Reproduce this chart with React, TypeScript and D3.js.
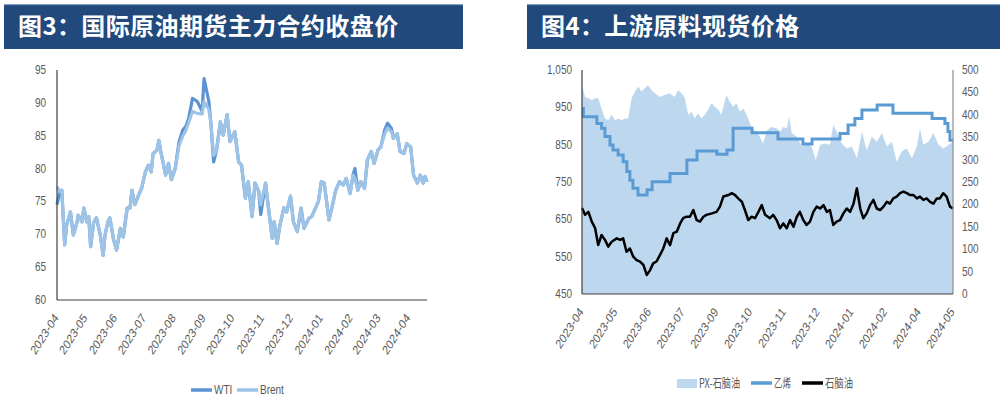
import React from "react";
import * as d3 from "d3";

// ---------- Left chart data: 国际原油期货主力合约收盘价 ----------
const oilStartDate = "2023-04-01";
const oilDays = [0,3,5,8,10,14,17,21,22,26,28,31,33,35,38,41,45,48,50,53,55,59,62,66,69,73,76,78,81,85,88,92,95,98,100,104,106,108,113,116,119,123,127,131,134,137,141,146,151,153,158,160,163,166,170,173,177,180,185,189,192,196,199,203,206,210,212,217,220,224,226,229,232,236,239,243,246,250,254,257,262,265,269,272,275,278,283,286,290,294,298,301,305,308,310,313,316,320,323,327,330,334,337,341,344,348,350,354,357,361,364,368,371,375,378,381,383,385];
const wti = [74.5,76.5,76.7,68.4,71.4,73.4,69.9,71.9,72.9,71.9,74.0,71.9,72.7,68.1,71.7,72.5,69.9,66.8,69.9,71.9,72.5,69.1,67.6,70.9,69.6,74.0,74.0,76.7,74.5,76.0,77.0,79.5,80.5,79.5,82.3,82.8,84.3,82.6,79.0,80.8,78.3,80.0,84.1,85.9,86.4,87.6,90.7,90.2,88.7,93.7,90.2,87.1,81.0,82.8,87.1,85.1,88.2,84.1,85.6,81.0,80.5,75.5,78.0,72.7,77.8,76.5,73.0,77.8,74.0,69.4,71.9,68.6,71.4,74.0,73.4,75.8,71.9,70.4,74.0,70.9,72.4,72.7,74.0,75.0,78.0,77.8,72.2,74.0,76.7,78.0,77.5,78.5,76.2,79.0,80.0,76.7,78.0,77.0,81.3,82.6,80.8,82.8,83.3,85.9,86.9,86.1,84.6,85.3,82.6,82.3,83.8,83.3,79.0,77.8,79.0,77.8,78.8,78.0];
const brent = [77.2,76.5,76.7,68.4,71.4,73.4,69.9,71.9,72.9,71.9,74.0,71.9,72.7,68.1,71.7,72.5,69.9,66.8,69.9,71.9,72.5,69.1,67.6,70.9,69.6,74.0,74.0,76.7,74.5,76.0,77.0,79.5,80.5,79.5,82.3,82.8,84.3,82.6,79.0,80.8,78.3,80.0,83.5,85.0,85.8,87.0,88.7,88.4,88.3,90.2,89.0,87.1,82.0,82.8,87.1,85.1,88.2,84.1,85.6,81.0,80.5,75.5,78.0,72.7,77.8,76.5,74.5,77.8,74.0,69.4,71.9,68.6,71.4,74.0,73.4,75.8,71.9,70.4,74.0,70.9,72.4,72.7,74.0,75.0,78.0,77.8,72.2,74.0,76.7,78.0,77.5,78.5,76.2,79.0,78.5,76.7,78.0,77.0,81.3,82.6,80.8,82.8,83.3,85.3,86.2,85.6,84.6,85.3,82.6,82.3,83.8,83.3,79.0,77.8,79.0,77.8,78.8,78.0];
const oilMonthLabels = ["2023-04","2023-05","2023-06","2023-07","2023-08","2023-09","2023-10","2023-11","2023-12","2024-01","2024-02","2024-03","2024-04"];
const oilYTicks = [60,65,70,75,80,85,90,95];

// ---------- Right chart data: 上游原料现货价格 ----------
const spotLabels = ["2023-04","2023-05","2023-06","2023-07","2023-09","2023-10","2023-11","2023-12","2024-01","2024-02","2024-04","2024-05"];
const spotLeftTicks = [450,550,650,750,850,950,1050];
const spotRightTicks = [0,50,100,150,200,250,300,350,400,450,500];
const ethylenePos = [0,4,44,58,68,83,92,107,122,133,142,151,166,193,208,261,311,341,400,430,448,504,581,655,682,765,789,809,830,875,922,1038,1076,1085,1091,1100];
const ethylene = [947,925,907,894,872,849,836,822,804,778,755,733,715,729,751,773,809,833,824,836,894,882,865,852,865,880,903,920,943,956,934,920,907,885,862,862];
const naphthaPos = [0,9,19,29,39,48,58,68,78,88,103,113,122,132,142,152,162,172,182,192,202,211,221,231,241,251,261,271,281,291,300,310,320,330,340,350,360,369,385,399,409,419,434,444,454,463,474,483,493,503,513,523,533,543,557,567,577,587,597,607,617,627,637,646,656,666,676,686,696,706,716,726,735,745,755,765,775,785,795,805,815,825,834,844,854,864,874,884,894,904,913,923,933,943,953,963,973,983,993,1002,1012,1022,1032,1042,1052,1061,1071,1081,1091,1100];
const naphtha = [680,662,670,644,626,581,608,595,577,590,599,595,599,563,572,550,541,537,528,501,514,532,537,554,572,599,581,613,617,639,653,657,657,675,648,644,657,662,666,670,684,711,715,720,715,706,697,675,648,657,653,670,688,662,653,662,648,626,639,626,648,630,657,670,648,635,644,670,684,679,688,670,675,635,644,648,666,679,670,692,733,679,653,666,688,702,679,675,684,697,692,706,711,720,724,720,715,715,706,711,702,706,697,692,706,706,720,711,684,679];
const pxPos = [0,9,19,29,39,48,58,68,78,88,98,107,117,127,137,147,157,167,176,186,196,206,216,231,245,260,275,285,295,305,315,325,334,344,354,364,374,384,394,404,413,428,438,448,458,468,478,488,498,508,518,527,537,548,562,577,587,597,607,614,622,637,652,666,681,693,706,721,735,745,755,770,785,800,815,830,844,859,874,889,904,919,933,948,963,978,993,1002,1012,1027,1042,1057,1072,1087,1100];
const pxSpread = [466,440,437,433,437,437,414,392,388,400,388,392,388,392,392,437,452,463,452,459,466,455,448,440,444,448,440,455,448,437,400,407,392,403,392,400,411,426,418,411,400,444,429,418,426,407,414,400,381,366,362,351,336,365,373,370,362,373,370,396,359,351,329,336,329,299,333,336,333,377,362,336,325,329,303,362,321,351,340,359,329,340,295,318,325,303,329,370,333,340,359,333,325,333,340];

const FONT = "'Liberation Sans', Arial, sans-serif";
const CJK = "'Noto Sans CJK SC', 'Noto Sans', sans-serif";
const LABEL = "#595959";
const SQ = 0.8; // horizontal squeeze of the reference's text

function NText({ x, y, anchor, children }: { x: number; y: number; anchor: "start" | "end"; children: React.ReactNode }) {
  return (
    <text transform={`translate(${x},${y}) scale(${SQ},1)`} textAnchor={anchor} fontFamily={FONT} fontSize={12.5} fill={LABEL}>
      {children}
    </text>
  );
}

function RotLabel({ x, y, children }: { x: number; y: number; children: React.ReactNode }) {
  return (
    <text transform={`translate(${x},${y}) scale(${SQ},1) rotate(-52)`} textAnchor="end" fontFamily={FONT} fontSize={13} fill={LABEL}>
      {children}
    </text>
  );
}

function TitleBar({ x, w, text }: { x: number; w: number; text: string }) {
  return (
    <g>
      <rect x={x} y={4} width={w} height={45} fill="#21497b" />
      <rect x={x} y={4} width={w} height={1.2} fill="#7f9cc2" />
      <text x={x + 14} y={35} fill="#ffffff" fontFamily={CJK} fontWeight={700} fontSize={24} letterSpacing={0.4}>
        {text}
      </text>
    </g>
  );
}

function OilChart() {
  const parse = d3.timeParse("%Y-%m-%d");
  const start = parse(oilStartDate) as Date;
  const dates = oilDays.map((d) => d3.timeDay.offset(start, d));
  const x = d3.scaleTime().domain([start, d3.timeDay.offset(start, oilDays[oilDays.length - 1])]).range([57, 427]);
  const y = d3.scaleLinear().domain([60, 95]).range([300, 70]);
  const line = (vals: number[]) =>
    d3.line<number>().x((_, i) => x(dates[i])).y((v) => y(v)).curve(d3.curveLinear)(vals) || "";
  const monthParse = d3.timeParse("%Y-%m");
  return (
    <g>
      {oilYTicks.map((t) => (
        <NText key={t} x={46} y={y(t) + 4} anchor="end">{t}</NText>
      ))}
      <path d={line(wti)} fill="none" stroke="#5b93d3" strokeWidth={3.2} strokeLinejoin="round" />
      <path d={line(brent)} fill="none" stroke="#9dc3e6" strokeWidth={3.2} strokeLinejoin="round" />
      <line x1={57} x2={57} y1={70} y2={300} stroke="#404040" strokeWidth={1.2} />
      <line x1={57} x2={427} y1={300} y2={300} stroke="#404040" strokeWidth={1.2} />
      {oilMonthLabels.map((m) => (
        <RotLabel key={m} x={x(monthParse(m) as Date) + 2} y={318}>{m}</RotLabel>
      ))}
      <line x1={191} x2={212} y1={390} y2={390} stroke="#5b93d3" strokeWidth={3.5} />
      <NText x={214} y={394} anchor="start">WTI</NText>
      <line x1={237} x2={258} y1={390} y2={390} stroke="#9dc3e6" strokeWidth={3.5} />
      <NText x={260} y={394} anchor="start">Brent</NText>
    </g>
  );
}

function SpotChart() {
  const x = d3.scaleLinear().domain([0, 1100]).range([582, 953]);
  const yL = d3.scaleLinear().domain([450, 1050]).range([294, 70]);
  const yR = d3.scaleLinear().domain([0, 500]).range([294, 70]);
  const area = d3.area<number>().x((_, i) => x(pxPos[i])).y0(yR(0)).y1((v) => yR(v))(pxSpread) || "";
  const ethLine = d3.line<number>().x((_, i) => x(ethylenePos[i])).y((v) => yL(v)).curve(d3.curveStepAfter)(ethylene) || "";
  const napLine = d3.line<number>().x((_, i) => x(naphthaPos[i])).y((v) => yL(v))(naphtha) || "";
  const fmt = d3.format(",");
  return (
    <g>
      <path d={area} fill="#bdd7ee" />
      <path d={ethLine} fill="none" stroke="#5b9bd5" strokeWidth={3} />
      <path d={napLine} fill="none" stroke="#000000" strokeWidth={2.5} strokeLinejoin="round" />
      <line x1={582} x2={582} y1={70} y2={294} stroke="#404040" strokeWidth={1.2} />
      <line x1={953} x2={953} y1={70} y2={294} stroke="#8c8c8c" strokeWidth={1.2} />
      <line x1={582} x2={953} y1={294} y2={294} stroke="#404040" strokeWidth={1.2} />
      {spotLeftTicks.map((t) => (
        <NText key={t} x={572} y={yL(t) + 4} anchor="end">{fmt(t)}</NText>
      ))}
      {spotRightTicks.map((t) => (
        <NText key={t} x={962} y={yR(t) + 4} anchor="start">{t}</NText>
      ))}
      {spotLabels.map((m, i) => (
        <RotLabel key={m + i} x={x(i * 100) + 2} y={312}>{m}</RotLabel>
      ))}
      <rect x={677} y={379} width={20} height={9} fill="#bdd7ee" />
      <text x={699} y={388} fontFamily={CJK} fontSize={12.5} fill={LABEL} textLength={41} lengthAdjust="spacingAndGlyphs">PX-石脑油</text>
      <line x1={751} x2={772} y1={383} y2={383} stroke="#5b9bd5" strokeWidth={3.5} />
      <text x={774} y={388} fontFamily={CJK} fontSize={12.5} fill={LABEL} textLength={17} lengthAdjust="spacingAndGlyphs">乙烯</text>
      <line x1={802} x2={823} y1={383} y2={383} stroke="#000000" strokeWidth={3.5} />
      <text x={825} y={388} fontFamily={CJK} fontSize={12.5} fill={LABEL} textLength={28} lengthAdjust="spacingAndGlyphs">石脑油</text>
    </g>
  );
}

export default function App() {
  return (
    <svg width={1004} height={405} style={{ position: "absolute", left: 0, top: 0, background: "#ffffff" }}>
      <rect x={0} y={0} width={1004} height={405} fill="#ffffff" />
      <TitleBar x={4} w={459} text="图3：国际原油期货主力合约收盘价" />
      <TitleBar x={527} w={473} text="图4：上游原料现货价格" />
      <OilChart />
      <SpotChart />
    </svg>
  );
}
